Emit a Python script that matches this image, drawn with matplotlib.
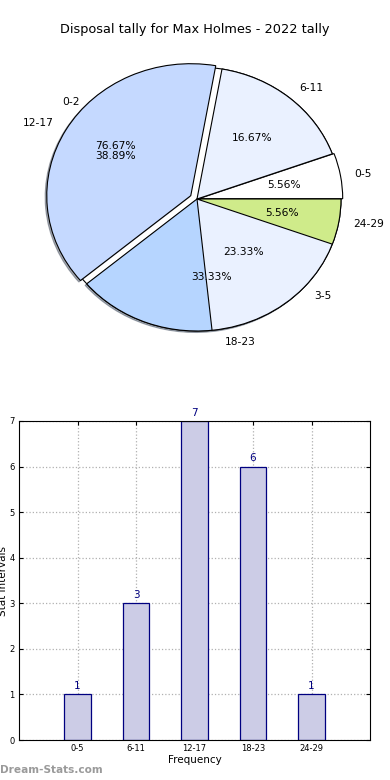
import matplotlib
matplotlib.use("Agg")
import matplotlib.pyplot as plt
import matplotlib.patches as mpatches
import numpy as np

# data
bins = ["0-5", "6-11", "12-17", "18-23", "24-29"]
counts = [1, 3, 7, 6, 1]
bins2 = ["0-2", "3-5"]
counts2 = [23, 7]

colors = ["#FFFFFF", "#EAF1FF", "#C5D9FF", "#B6D5FF", "#CFEB8A"]
colors2 = ["none", "#EAF1FF"]

fig = plt.figure(figsize=(3.9, 7.8), dpi=100)
fig.text(0.5, 1 - 30 / 780, "Disposal tally for Max Holmes - 2022 tally",
         ha="center", va="center", fontsize=9.3)

# pie (two overlaid pies, stretched like the old non-equal aspect)
ax = fig.add_axes([17 / 390, 1 - 364 / 780, 360 / 390, 330 / 780])
wp = dict(edgecolor="black", linewidth=0.8)
w1, t1, a1 = ax.pie(counts, labels=bins, colors=colors, autopct="%.2f%%",
                    explode=[0.012, 0, 0.05, 0, 0], wedgeprops=wp,
                    textprops=dict(fontsize=7.7))
w2, t2, a2 = ax.pie(counts2, labels=bins2, colors=colors2, autopct="%.2f%%",
                    wedgeprops=wp, textprops=dict(fontsize=7.7))
ax.set_aspect("auto")
ax.set_xlim(-1.25, 1.25)
ax.set_ylim(-1.25, 1.25)

# stacking order seen in the reference
w1[3].set_zorder(1)
w2[1].set_zorder(1.5)
w2[0].set_zorder(0.5)
for w in (w1[0], w1[1], w1[2], w1[4]):
    w.set_zorder(2)
for i in (2, 3):
    sh = mpatches.Shadow(w1[i], -0.008, -0.008, shade=0.6)
    sh.set_zorder(0.4)
    ax.add_patch(sh)
for t in a2:
    x, y = t.get_position()
    t.set_position((x - 0.12, y))
for t in list(t1) + list(t2) + list(a1) + list(a2):
    t.set_zorder(5)

# bar chart
bx = fig.add_axes([19 / 390, 1 - 740 / 780, 351 / 390, 319 / 780])
pos = np.arange(len(bins))
bars = bx.bar(pos, counts, width=0.45, color="#CCCCE6", edgecolor="#000080",
              linewidth=0.9, zorder=2)
for b, v in zip(bars, counts):
    bx.text(b.get_x() + b.get_width() / 2, v + 0.07, str(v), ha="center",
            va="bottom", color="#000080", fontsize=7.5)
bx.set_xlim(-1, 5)
bx.set_ylim(0, 7)
bx.set_xticks(pos)
bx.set_xticklabels(bins, fontsize=6)
bx.set_yticks(range(8))
bx.tick_params(axis="y", labelsize=6)
bx.tick_params(direction="in", top=True, right=True, length=3, pad=3)
bx.grid(True, linestyle=":", color="#B0B0B0", linewidth=0.9, zorder=0)
bx.set_axisbelow(True)
bx.set_xlabel("Frequency", fontsize=7.5, labelpad=1)
bx.set_ylabel("Stat Intervals", fontsize=7.5, labelpad=1)

fig.text(0.0, 1 - 770 / 780, "Dream-Stats.com", ha="left", va="center",
         fontsize=7.6, color="#9A9A9A", fontweight="bold")

fig.savefig("out.png", dpi=100)
